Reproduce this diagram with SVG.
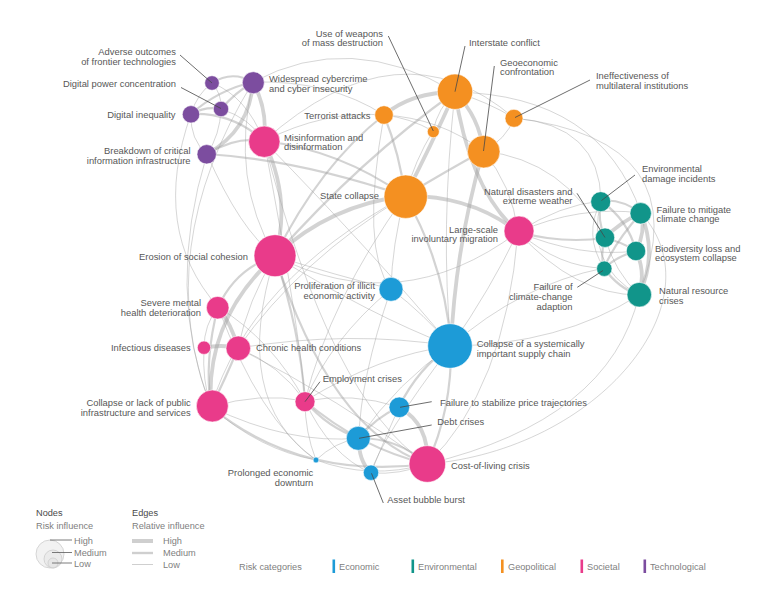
<svg xmlns="http://www.w3.org/2000/svg" width="776" height="600" viewBox="0 0 776 600">
<style>
.e1{fill:none;stroke:#9e9e9e;stroke-opacity:.42;stroke-width:1}
.e2{fill:none;stroke:#9e9e9e;stroke-opacity:.45;stroke-width:2.2}
.e3{fill:none;stroke:#9e9e9e;stroke-opacity:.45;stroke-width:3.8}
text{font-family:"Liberation Sans",Arial,sans-serif;font-size:9.4px;fill:#575757}
.r{text-anchor:end}
.ld{stroke:#474747;stroke-width:.8}
circle.n{stroke:#fff;stroke-width:.6}
.tec{fill:#7c4d9f}.soc{fill:#e93b8a}.geo{fill:#f49021}.eco{fill:#1d9bd7}.env{fill:#11958a}
.lg{font-size:9.2px;fill:#808080}
.lh{font-size:9.2px;fill:#4a4a4a}
.ll{stroke:#5a5a5a;stroke-width:.8}
.le{stroke:#cfcfcf}
</style>
<rect width="776" height="600" fill="#fff"/>
<g id="edges">
<path class="e2" d="M212,83 Q232,70 253,82"/>
<path class="e1" d="M212,83 Q197,94 191,114"/>
<path class="e1" d="M212,83 Q222,94 221,109"/>
<path class="e2" d="M221,109 Q236,92 253,82"/>
<path class="e2" d="M191,114 Q218,90 253,82"/>
<path class="e2" d="M191,114 Q206,106 221,109"/>
<path class="e1" d="M191,114 Q190,140 207,154"/>
<path class="e1" d="M221,109 Q220,135 207,154"/>
<path class="e3" d="M253,82 Q250,130 207,154"/>
<path class="e3" d="M253,82 Q268,110 264,141"/>
<path class="e2" d="M191,114 Q232,112 264,141"/>
<path class="e1" d="M221,109 Q250,118 264,141"/>
<path class="e1" d="M212,83 Q246,96 264,141"/>
<path class="e2" d="M207,154 Q236,136 264,141"/>
<path class="e1" d="M253,82 Q330,80 384,115"/>
<path class="e1" d="M253,82 Q350,30 455,92"/>
<path class="e1" d="M264,141 Q400,20 514,118"/>
<path class="e1" d="M253,82 Q230,180 275,256"/>
<path class="e1" d="M191,114 Q150,230 218,307"/>
<path class="e1" d="M207,154 Q165,290 211,407"/>
<path class="e1" d="M253,82 Q150,250 211,407"/>
<path class="e1" d="M207,154 Q240,230 275,256"/>
<path class="e2" d="M207,154 Q300,160 405,196"/>
<path class="e3" d="M264,141 Q292,200 275,256"/>
<path class="e2" d="M264,141 Q340,150 405,196"/>
<path class="e1" d="M264,141 Q325,110 384,115"/>
<path class="e1" d="M264,141 Q300,330 305,401"/>
<path class="e1" d="M264,141 Q330,400 427,464"/>
<path class="e1" d="M264,141 Q380,260 451,346"/>
<path class="e3" d="M455,92 Q412,92 384,115"/>
<path class="e3" d="M455,92 Q480,118 483,151"/>
<path class="e3" d="M455,92 Q430,148 405,196"/>
<path class="e1" d="M455,92 Q488,102 514,118"/>
<path class="e1" d="M455,92 Q438,108 433,131"/>
<path class="e2" d="M384,115 Q400,155 405,196"/>
<path class="e1" d="M384,115 Q410,118 433,131"/>
<path class="e1" d="M384,115 Q440,118 483,151"/>
<path class="e1" d="M483,151 Q506,140 514,118"/>
<path class="e2" d="M483,151 Q448,170 405,196"/>
<path class="e1" d="M433,131 Q415,160 405,196"/>
<path class="e3" d="M455,92 Q470,190 518,232"/>
<path class="e3" d="M483,151 Q455,250 451,346"/>
<path class="e1" d="M455,92 Q440,230 451,346"/>
<path class="e3" d="M405,196 Q470,195 518,232"/>
<path class="e3" d="M405,196 Q330,205 275,256"/>
<path class="e1" d="M405,196 Q392,245 391,289"/>
<path class="e2" d="M405,196 Q445,265 451,346"/>
<path class="e2" d="M384,115 Q320,165 275,256"/>
<path class="e2" d="M455,92 Q360,160 275,256"/>
<path class="e1" d="M514,118 Q600,125 601,201"/>
<path class="e1" d="M514,118 Q700,140 639,295"/>
<path class="e1" d="M483,151 Q512,185 518,232"/>
<path class="e1" d="M483,151 Q565,160 605,238"/>
<path class="e1" d="M455,92 Q600,95 641,213"/>
<path class="e1" d="M405,196 Q300,260 238,348"/>
<path class="e1" d="M405,196 Q330,300 305,401"/>
<path class="e1" d="M405,196 Q250,280 211,407"/>
<path class="e1" d="M384,115 Q360,250 391,289"/>
<path class="e2" d="M601,201 Q620,198 641,213"/>
<path class="e2" d="M601,201 Q597,220 605,238"/>
<path class="e2" d="M601,201 Q628,220 636,251"/>
<path class="e1" d="M601,201 Q585,265 639,295"/>
<path class="e3" d="M641,213 Q620,222 605,238"/>
<path class="e3" d="M641,213 Q646,232 636,251"/>
<path class="e2" d="M641,213 Q615,242 604,268"/>
<path class="e3" d="M641,213 Q658,255 639,295"/>
<path class="e2" d="M605,238 Q622,242 636,251"/>
<path class="e2" d="M605,238 Q600,253 604,268"/>
<path class="e1" d="M605,238 Q615,272 639,295"/>
<path class="e3" d="M636,251 Q646,272 639,295"/>
<path class="e2" d="M636,251 Q618,256 604,268"/>
<path class="e2" d="M604,268 Q618,288 639,295"/>
<path class="e1" d="M601,201 Q583,235 604,268"/>
<path class="e1" d="M518,232 Q560,205 601,201"/>
<path class="e2" d="M518,232 Q562,244 605,238"/>
<path class="e1" d="M518,232 Q580,205 641,213"/>
<path class="e1" d="M518,232 Q580,258 636,251"/>
<path class="e1" d="M518,232 Q560,268 604,268"/>
<path class="e1" d="M518,232 Q575,295 639,295"/>
<path class="e1" d="M639,295 Q610,420 427,464"/>
<path class="e1" d="M639,295 Q560,345 451,346"/>
<path class="e1" d="M604,268 Q520,285 451,346"/>
<path class="e1" d="M641,213 C720,300 600,450 427,464"/>
<path class="e2" d="M275,256 Q236,268 218,307"/>
<path class="e3" d="M275,256 Q205,320 211,407"/>
<path class="e1" d="M275,256 Q248,300 238,348"/>
<path class="e2" d="M275,256 Q300,330 305,401"/>
<path class="e2" d="M275,256 Q330,430 427,464"/>
<path class="e1" d="M275,256 Q335,275 391,289"/>
<path class="e1" d="M275,256 Q370,315 451,346"/>
<path class="e1" d="M275,256 Q400,320 518,232"/>
<path class="e1" d="M275,256 Q230,400 316,460"/>
<path class="e3" d="M218,307 Q232,325 238,348"/>
<path class="e1" d="M218,307 Q204,325 204,348"/>
<path class="e3" d="M204,348 Q221,344 238,348"/>
<path class="e2" d="M218,307 Q204,360 211,407"/>
<path class="e2" d="M238,348 Q225,380 211,407"/>
<path class="e1" d="M204,348 Q202,380 211,407"/>
<path class="e1" d="M211,407 Q260,392 305,401"/>
<path class="e2" d="M211,407 Q300,480 427,464"/>
<path class="e1" d="M211,407 Q290,445 359,438"/>
<path class="e1" d="M211,407 Q260,450 316,460"/>
<path class="e2" d="M305,401 Q360,448 427,464"/>
<path class="e2" d="M305,401 Q328,428 359,438"/>
<path class="e1" d="M305,401 Q352,392 399,407"/>
<path class="e1" d="M305,401 Q380,355 451,346"/>
<path class="e1" d="M305,401 Q305,432 316,460"/>
<path class="e1" d="M305,401 Q330,455 371,473"/>
<path class="e3" d="M399,407 Q430,425 427,464"/>
<path class="e2" d="M399,407 Q375,418 359,438"/>
<path class="e2" d="M359,438 Q398,438 427,464"/>
<path class="e3" d="M359,438 Q358,460 371,473"/>
<path class="e1" d="M371,473 Q400,475 427,464"/>
<path class="e1" d="M316,460 Q335,442 359,438"/>
<path class="e1" d="M316,460 Q370,480 427,464"/>
<path class="e2" d="M451,346 Q452,410 427,464"/>
<path class="e2" d="M451,346 Q418,368 399,407"/>
<path class="e1" d="M451,346 Q398,382 359,438"/>
<path class="e1" d="M391,289 Q425,315 451,346"/>
<path class="e1" d="M238,348 Q280,365 305,401"/>
<path class="e1" d="M238,348 Q340,400 427,464"/>
<path class="e1" d="M218,307 Q272,340 305,401"/>
<path class="e1" d="M518,232 Q490,290 451,346"/>
<path class="e1" d="M518,232 Q505,390 427,464"/>
<path class="e1" d="M238,348 Q350,330 451,346"/>
<path class="e1" d="M391,289 Q330,340 305,401"/>
<path class="e1" d="M218,307 Q260,420 316,460"/>
<path class="e1" d="M451,346 Q380,440 371,473"/>
<path class="e1" d="M399,407 Q380,450 371,473"/>
<path class="e1" d="M391,289 Q360,380 359,438"/>
</g>
<g id="n-adverse-outcomes"><circle class="n tec" cx="212" cy="83" r="7.3"/><line class="ld" x1="180" y1="55" x2="212" y2="83"/><text class="r" x="176" y="55">Adverse outcomes<tspan x="176" dy="9.6">of frontier technologies</tspan></text></g>
<g id="n-digital-power"><circle class="n tec" cx="221" cy="109" r="7.7"/><line class="ld" x1="181" y1="87.5" x2="221" y2="108.5"/><text class="r" x="176" y="86.6">Digital power concentration</text></g>
<g id="n-digital-inequality"><circle class="n tec" cx="191" cy="114.3" r="8.7"/><text class="r" x="175.5" y="117.6">Digital inequality</text></g>
<g id="n-cybercrime"><circle class="n tec" cx="253.3" cy="82.7" r="11"/><text x="269" y="82.3">Widespread cybercrime<tspan x="269" dy="9.6">and cyber insecurity</tspan></text></g>
<g id="n-breakdown"><circle class="n tec" cx="206.7" cy="154.3" r="9.7"/><text class="r" x="190.5" y="154.3">Breakdown of critical<tspan x="190.5" dy="9.7">information infrastructure</tspan></text></g>
<g id="n-misinformation"><circle class="n soc" cx="264.3" cy="141.7" r="15.7"/><text x="284" y="140.6">Misinformation and<tspan x="284" dy="9.6">disinformation</tspan></text></g>
<g id="n-terrorist"><circle class="n geo" cx="384" cy="115" r="9.3"/><text class="r" x="370.5" y="118.8">Terrorist attacks</text></g>
<g id="n-wmd"><circle class="n geo" cx="433.3" cy="131.7" r="6"/><line class="ld" x1="388.3" y1="36" x2="433.3" y2="131"/><text class="r" x="383" y="36.6">Use of weapons<tspan x="383" dy="9.6">of mass destruction</tspan></text></g>
<g id="n-interstate"><circle class="n geo" cx="455" cy="91.7" r="17.7"/><line class="ld" x1="465" y1="46" x2="455" y2="91.7"/><text x="469" y="46">Interstate conflict</text></g>
<g id="n-geoeconomic"><circle class="n geo" cx="483.7" cy="151.7" r="16.3"/><line class="ld" x1="494.3" y1="66" x2="483.5" y2="151"/><text x="500" y="65.6">Geoeconomic<tspan x="500" dy="9.6">confrontation</tspan></text></g>
<g id="n-multilateral"><circle class="n geo" cx="514" cy="118.3" r="9"/><line class="ld" x1="590" y1="80" x2="515" y2="117.5"/><text x="596" y="79.3">Ineffectiveness of<tspan x="596" dy="9.7">multilateral institutions</tspan></text></g>
<g id="n-state-collapse"><circle class="n geo" cx="405.7" cy="196.7" r="21.7"/><text class="r" x="379" y="199">State collapse</text></g>
<g id="n-migration"><circle class="n soc" cx="519" cy="231" r="15"/><text class="r" x="498" y="232.6">Large-scale<tspan x="498" dy="9.6">involuntary migration</tspan></text></g>
<g id="n-env-damage"><circle class="n env" cx="600.7" cy="201.7" r="10"/><line class="ld" x1="635" y1="175" x2="601.5" y2="200.5"/><text x="642" y="172.3">Environmental<tspan x="642" dy="9.7">damage incidents</tspan></text></g>
<g id="n-mitigate"><circle class="n env" cx="640.7" cy="213.3" r="10.7"/><text x="656.5" y="212.6">Failure to mitigate<tspan x="656.5" dy="9.7">climate change</tspan></text></g>
<g id="n-natural-disasters"><circle class="n env" cx="605" cy="237.7" r="9.7"/><line class="ld" x1="577" y1="193.3" x2="605" y2="237.5"/><text class="r" x="572.5" y="194.8">Natural disasters and<tspan x="572.5" dy="9.6">extreme weather</tspan></text></g>
<g id="n-biodiversity"><circle class="n env" cx="636" cy="251" r="9.7"/><text x="655" y="251.7">Biodiversity loss and<tspan x="655" dy="9.7">ecosystem collapse</tspan></text></g>
<g id="n-adaption"><circle class="n env" cx="604.3" cy="268.7" r="7.7"/><line class="ld" x1="577.3" y1="287.3" x2="603" y2="270.5"/><text class="r" x="572.5" y="290">Failure of<tspan x="572.5" dy="9.8">climate-change</tspan><tspan x="572.5" dy="9.7">adaption</tspan></text></g>
<g id="n-natural-resource"><circle class="n env" cx="639.3" cy="294.7" r="12.3"/><text x="659" y="294">Natural resource<tspan x="659" dy="10">crises</tspan></text></g>
<g id="n-erosion"><circle class="n soc" cx="275" cy="255.7" r="21"/><text class="r" x="248" y="260">Erosion of social cohesion</text></g>
<g id="n-illicit"><circle class="n eco" cx="391" cy="289.3" r="12"/><text class="r" x="375" y="289.3">Proliferation of illicit<tspan x="375" dy="10">economic activity</tspan></text></g>
<g id="n-mental-health"><circle class="n soc" cx="217.7" cy="307.7" r="11.3"/><text class="r" x="201" y="306">Severe mental<tspan x="201" dy="9.7">health deterioration</tspan></text></g>
<g id="n-infectious"><circle class="n soc" cx="204" cy="347.7" r="6.7"/><text class="r" x="190.7" y="351">Infectious diseases</text></g>
<g id="n-chronic"><circle class="n soc" cx="238.3" cy="348.3" r="12.3"/><text x="256" y="351">Chronic health conditions</text></g>
<g id="n-public-infra"><circle class="n soc" cx="212.3" cy="406" r="16"/><text class="r" x="190.7" y="406.4">Collapse or lack of public<tspan x="190.7" dy="9.8">infrastructure and services</tspan></text></g>
<g id="n-employment"><circle class="n soc" cx="305" cy="401.7" r="10"/><line class="ld" x1="320" y1="381.7" x2="305" y2="401.7"/><text x="322.7" y="381.6">Employment crises</text></g>
<g id="n-supply-chain"><circle class="n eco" cx="450" cy="346" r="22.3"/><text x="476.7" y="346.6">Collapse of a systemically<tspan x="476.7" dy="10">important supply chain</tspan></text></g>
<g id="n-price"><circle class="n eco" cx="399.3" cy="407.3" r="10.3"/><line class="ld" x1="431.7" y1="401.7" x2="400" y2="407.3"/><text x="440" y="405.6">Failure to stabilize price trajectories</text></g>
<g id="n-debt"><circle class="n eco" cx="358.3" cy="438.3" r="12"/><line class="ld" x1="431.7" y1="425" x2="359" y2="438.3"/><text x="437.3" y="425.3">Debt crises</text></g>
<g id="n-prolonged"><circle class="n eco" cx="316" cy="460" r="2.9"/><text class="r" x="313.3" y="475.6">Prolonged economic<tspan x="313.3" dy="10">downturn</tspan></text></g>
<g id="n-asset-bubble"><circle class="n eco" cx="371" cy="472.7" r="7.7"/><line class="ld" x1="383.3" y1="503" x2="371.5" y2="473.3"/><text x="387.3" y="503.3">Asset bubble burst</text></g>
<g id="n-cost-of-living"><circle class="n soc" cx="427.3" cy="464" r="18.3"/><text x="451" y="469.3">Cost-of-living crisis</text></g>
<g id="legend">
<text class="lh" x="36" y="516">Nodes</text>
<text class="lg" x="36" y="528.5">Risk influence</text>
<circle cx="50" cy="554" r="14" fill="#ececec" fill-opacity=".7" stroke="#cdcdcd" stroke-width=".8"/>
<circle cx="53" cy="559" r="9" fill="#e6e6e6" fill-opacity=".6" stroke="#cdcdcd" stroke-width=".8"/>
<circle cx="53" cy="563" r="5" fill="#e2e2e2" fill-opacity=".6" stroke="#cdcdcd" stroke-width=".8"/>
<line class="ll" x1="50" y1="540" x2="72" y2="540"/>
<line class="ll" x1="52" y1="552.5" x2="72" y2="552.5"/>
<line class="ll" x1="52" y1="563" x2="72" y2="563"/>
<text class="lg" x="74" y="544">High</text>
<text class="lg" x="74" y="556">Medium</text>
<text class="lg" x="74" y="567">Low</text>
<text class="lh" x="132" y="516">Edges</text>
<text class="lg" x="132" y="528.5">Relative influence</text>
<line class="le" x1="132" y1="541" x2="153" y2="541" stroke-width="4"/>
<line class="le" x1="132" y1="553" x2="153" y2="553" stroke-width="2.4"/>
<line class="le" x1="132" y1="564.5" x2="153" y2="564.5" stroke-width="1"/>
<text class="lg" x="163" y="544">High</text>
<text class="lg" x="163" y="556">Medium</text>
<text class="lg" x="163" y="567.5">Low</text>
<text class="lg" x="239" y="569.5">Risk categories</text>
<rect x="332.5" y="559.5" width="2.6" height="13.5" class="eco"/><text class="lg" x="339" y="569.5">Economic</text>
<rect x="411.5" y="559.5" width="2.6" height="13.5" class="env"/><text class="lg" x="418" y="569.5">Environmental</text>
<rect x="501" y="559.5" width="2.6" height="13.5" class="geo"/><text class="lg" x="508" y="569.5">Geopolitical</text>
<rect x="580.5" y="559.5" width="2.6" height="13.5" class="soc"/><text class="lg" x="587" y="569.5">Societal</text>
<rect x="643.5" y="559.5" width="2.6" height="13.5" class="tec"/><text class="lg" x="650" y="569.5">Technological</text>
</g>
</svg>
